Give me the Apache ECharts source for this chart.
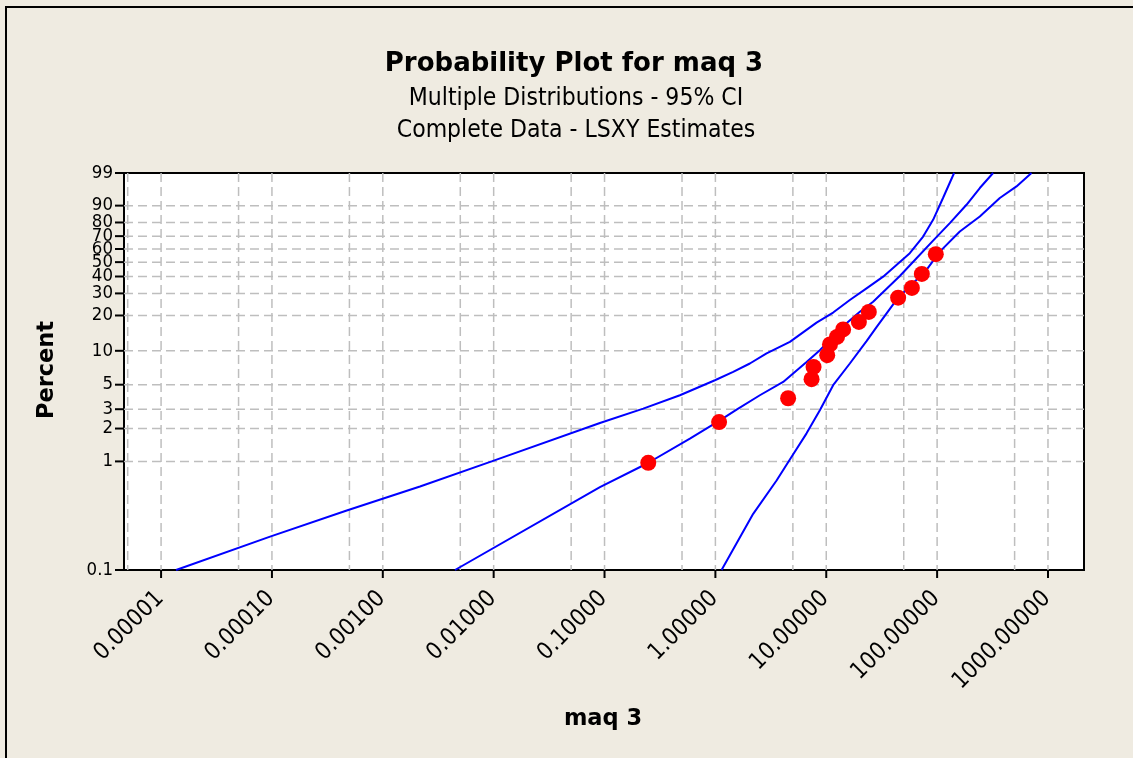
<!DOCTYPE html>
<html>
<head>
<meta charset="utf-8">
<script src="https://cdn.jsdelivr.net/npm/echarts@6/dist/echarts.min.js"></script>
<style>
  html, body { margin: 0; padding: 0; background: #EFEBE1; }
  #chart { width: 1133px; height: 758px; }
</style>
</head>
<body>
<div id="chart"></div>
<script>
// data points (maq 3, percent)
const pointX = [0.248, 1.08, 4.53, 7.37, 7.68, 10.2, 10.8, 12.5, 14.2, 19.7, 24.2, 44.5, 59.2, 72.8, 97.3];
const pointP = [0.97, 2.29, 3.77, 5.60, 7.21, 9.15, 11.36, 13.2, 15.3, 17.7, 21.4, 27.8, 33.0, 41.7, 56.0];

// fitted line and 95% CI curves
const fitX = [0.00448, 0.0909, 0.2396, 0.5888, 1.098, 1.553, 2.519, 4.087, 6.643, 8.755, 11.54, 15.24, 20.09, 26.48, 46.1, 65.2, 92.0, 130.2, 184.1, 242.7, 319.9];
const fitP = [0.1, 0.58, 0.9517, 1.617, 2.377, 2.977, 4.015, 5.294, 7.989, 10.13, 13.23, 17.20, 21.46, 25.83, 40.36, 52.92, 66.57, 79.56, 90.41, 96.48, 99];
const upperX = [0.00001365, 0.0000962, 0.000473, 0.002165, 0.00959, 0.0909, 0.2234, 0.4786, 0.990, 1.447, 2.046, 2.895, 4.697, 8.177, 11.54, 16.32, 23.09, 32.6, 43.0, 56.7, 74.8, 92.0, 113.3, 142.3];
const upperP = [0.1, 0.2033, 0.3534, 0.588, 0.9995, 2.245, 3.04, 4.015, 5.484, 6.509, 7.731, 9.479, 11.97, 17.46, 21.14, 26.65, 32.80, 39.90, 47.96, 56.74, 69.68, 81.79, 93.42, 99];
const lowerX = [1.137, 2.192, 3.563, 4.697, 6.643, 8.755, 11.54, 16.32, 23.09, 28.41, 44.5, 60.75, 80.2, 105.8, 160.2, 242.7, 367.7, 520, 710];
const lowerP = [0.1, 0.3292, 0.668, 1.043, 1.808, 2.933, 4.945, 7.731, 12.14, 16.00, 27.8, 35.74, 44.41, 57.98, 73.49, 83.91, 93.31, 96.86, 99];

// axes
const xTicks = [0.00001, 0.0001, 0.001, 0.01, 0.1, 1, 10, 100, 1000];
const xTickLabels = ['0.00001', '0.00010', '0.00100', '0.01000', '0.10000', '1.00000', '10.00000', '100.00000', '1000.00000'];
const xGridExtra = [0.000005, 0.00005, 0.0005, 0.005, 0.05, 0.5, 5, 50, 500];
const yTicks = [0.1, 1, 2, 3, 5, 10, 20, 30, 40, 50, 60, 70, 80, 90, 99];
const xMin = 0.00000463, xMax = 2113;
const yMin = 0.1, yMax = 99;

const FONT = "'DejaVu Sans Condensed', Tahoma, 'DejaVu Sans', sans-serif";
const BOLD_FONT = "'DejaVu Sans', Tahoma, sans-serif";

// log10 x, weibull y
const tx = v => Math.log10(v);
const ty = p => Math.log(-Math.log(1 - p / 100));
const pairs = (xs, ps) => xs.map((v, i) => [tx(v), ty(ps[i])]);

const myChart = echarts.init(document.getElementById('chart'));

const gridStyle = { stroke: '#BEBEBE', lineWidth: 1.5, lineDash: [9, 5] };

myChart.setOption({
  backgroundColor: '#EFEBE1',
  animation: false,
  title: [
    { text: 'Probability Plot for maq 3', left: 569, top: 46, textAlign: 'center',
      textStyle: { fontFamily: BOLD_FONT, fontWeight: 'bold', fontSize: 26, color: '#000' } },
    { text: 'Multiple Distributions - 95% CI', left: 571, top: 81, textAlign: 'center',
      textStyle: { fontFamily: FONT, fontWeight: 'normal', fontSize: 24.5, color: '#000' } },
    { text: 'Complete Data - LSXY Estimates', left: 571, top: 113, textAlign: 'center',
      textStyle: { fontFamily: FONT, fontWeight: 'normal', fontSize: 24.5, color: '#000' } }
  ],
  graphic: [
    { type: 'rect', shape: { x: 6, y: 7, width: 1150, height: 780 }, style: { fill: null, stroke: '#000', lineWidth: 2 } },
    { type: 'text', x: 47, y: 370, rotation: Math.PI / 2,
      style: { text: 'Percent', fontFamily: BOLD_FONT, fontWeight: 'bold', fontSize: 22.5, fill: '#000', align: 'center', verticalAlign: 'middle' } },
    { type: 'text', x: 603, y: 719,
      style: { text: 'maq 3', fontFamily: BOLD_FONT, fontWeight: 'bold', fontSize: 22.5, fill: '#000', align: 'center', verticalAlign: 'middle' } }
  ],
  grid: {
    left: 124, right: 49, top: 173, bottom: 188,
    show: true, backgroundColor: '#fff', borderColor: '#000', borderWidth: 2
  },
  xAxis: { type: 'value', min: tx(xMin), max: tx(xMax), show: false },
  yAxis: { type: 'value', min: ty(yMin), max: ty(yMax), show: false },
  series: [
    {
      // vertical grid lines
      type: 'custom', z: 1, silent: true,
      data: xTicks.concat(xGridExtra).map(v => [tx(v), ty(yMin)]),
      renderItem: (params, api) => {
        const a = api.coord([api.value(0), ty(yMax)]);
        const b = api.coord([api.value(0), ty(yMin)]);
        return { type: 'line', shape: { x1: a[0], y1: a[1], x2: b[0], y2: b[1] }, style: gridStyle };
      }
    },
    {
      // horizontal grid lines
      type: 'custom', z: 1, silent: true,
      data: yTicks.slice(1, -1).map(p => [tx(xMin), ty(p)]),
      renderItem: (params, api) => {
        const a = api.coord([tx(xMin), api.value(1)]);
        const b = api.coord([tx(xMax), api.value(1)]);
        return { type: 'line', shape: { x1: a[0], y1: a[1], x2: b[0], y2: b[1] }, style: gridStyle };
      }
    },
    {
      // x ticks + labels
      type: 'custom', z: 5, silent: true, clip: false,
      data: xTicks.map((v, i) => [tx(v), ty(yMin), i]),
      renderItem: (params, api) => {
        const p = api.coord([api.value(0), ty(yMin)]);
        return {
          type: 'group',
          children: [
            { type: 'line', shape: { x1: p[0], y1: p[1], x2: p[0], y2: p[1] + 8 }, style: { stroke: '#000', lineWidth: 2 } },
            { type: 'text', x: p[0] - 1, y: p[1] + 25, rotation: Math.PI / 4,
              style: { text: xTickLabels[api.value(2)], fontFamily: FONT, fontSize: 23.5, fill: '#000', align: 'right', verticalAlign: 'middle' } }
          ]
        };
      }
    },
    {
      // y ticks + labels
      type: 'custom', z: 5, silent: true, clip: false,
      data: yTicks.map((p, i) => [tx(xMin), ty(p), i]),
      renderItem: (params, api) => {
        const p = api.coord([tx(xMin), api.value(1)]);
        return {
          type: 'group',
          children: [
            { type: 'line', shape: { x1: p[0] - 9, y1: p[1], x2: p[0], y2: p[1] }, style: { stroke: '#000', lineWidth: 2 } },
            { type: 'text', x: p[0] - 11, y: p[1],
              style: { text: String(yTicks[api.value(2)]), fontFamily: FONT, fontSize: 18.5, fill: '#000', align: 'right', verticalAlign: 'middle' } }
          ]
        };
      }
    },
    {
      name: 'Upper CI', type: 'line', z: 3, data: pairs(upperX, upperP),
      showSymbol: false, lineStyle: { color: '#0000FF', width: 2 }
    },
    {
      name: 'Fit', type: 'line', z: 3, data: pairs(fitX, fitP),
      showSymbol: false, lineStyle: { color: '#0000FF', width: 2 }
    },
    {
      name: 'Lower CI', type: 'line', z: 3, data: pairs(lowerX, lowerP),
      showSymbol: false, lineStyle: { color: '#0000FF', width: 2 }
    },
    {
      name: 'maq 3', type: 'scatter', z: 4, data: pairs(pointX, pointP),
      symbol: 'circle', symbolSize: 16, itemStyle: { color: '#FF0000', opacity: 1 }
    }
  ]
});
</script>
</body>
</html>
